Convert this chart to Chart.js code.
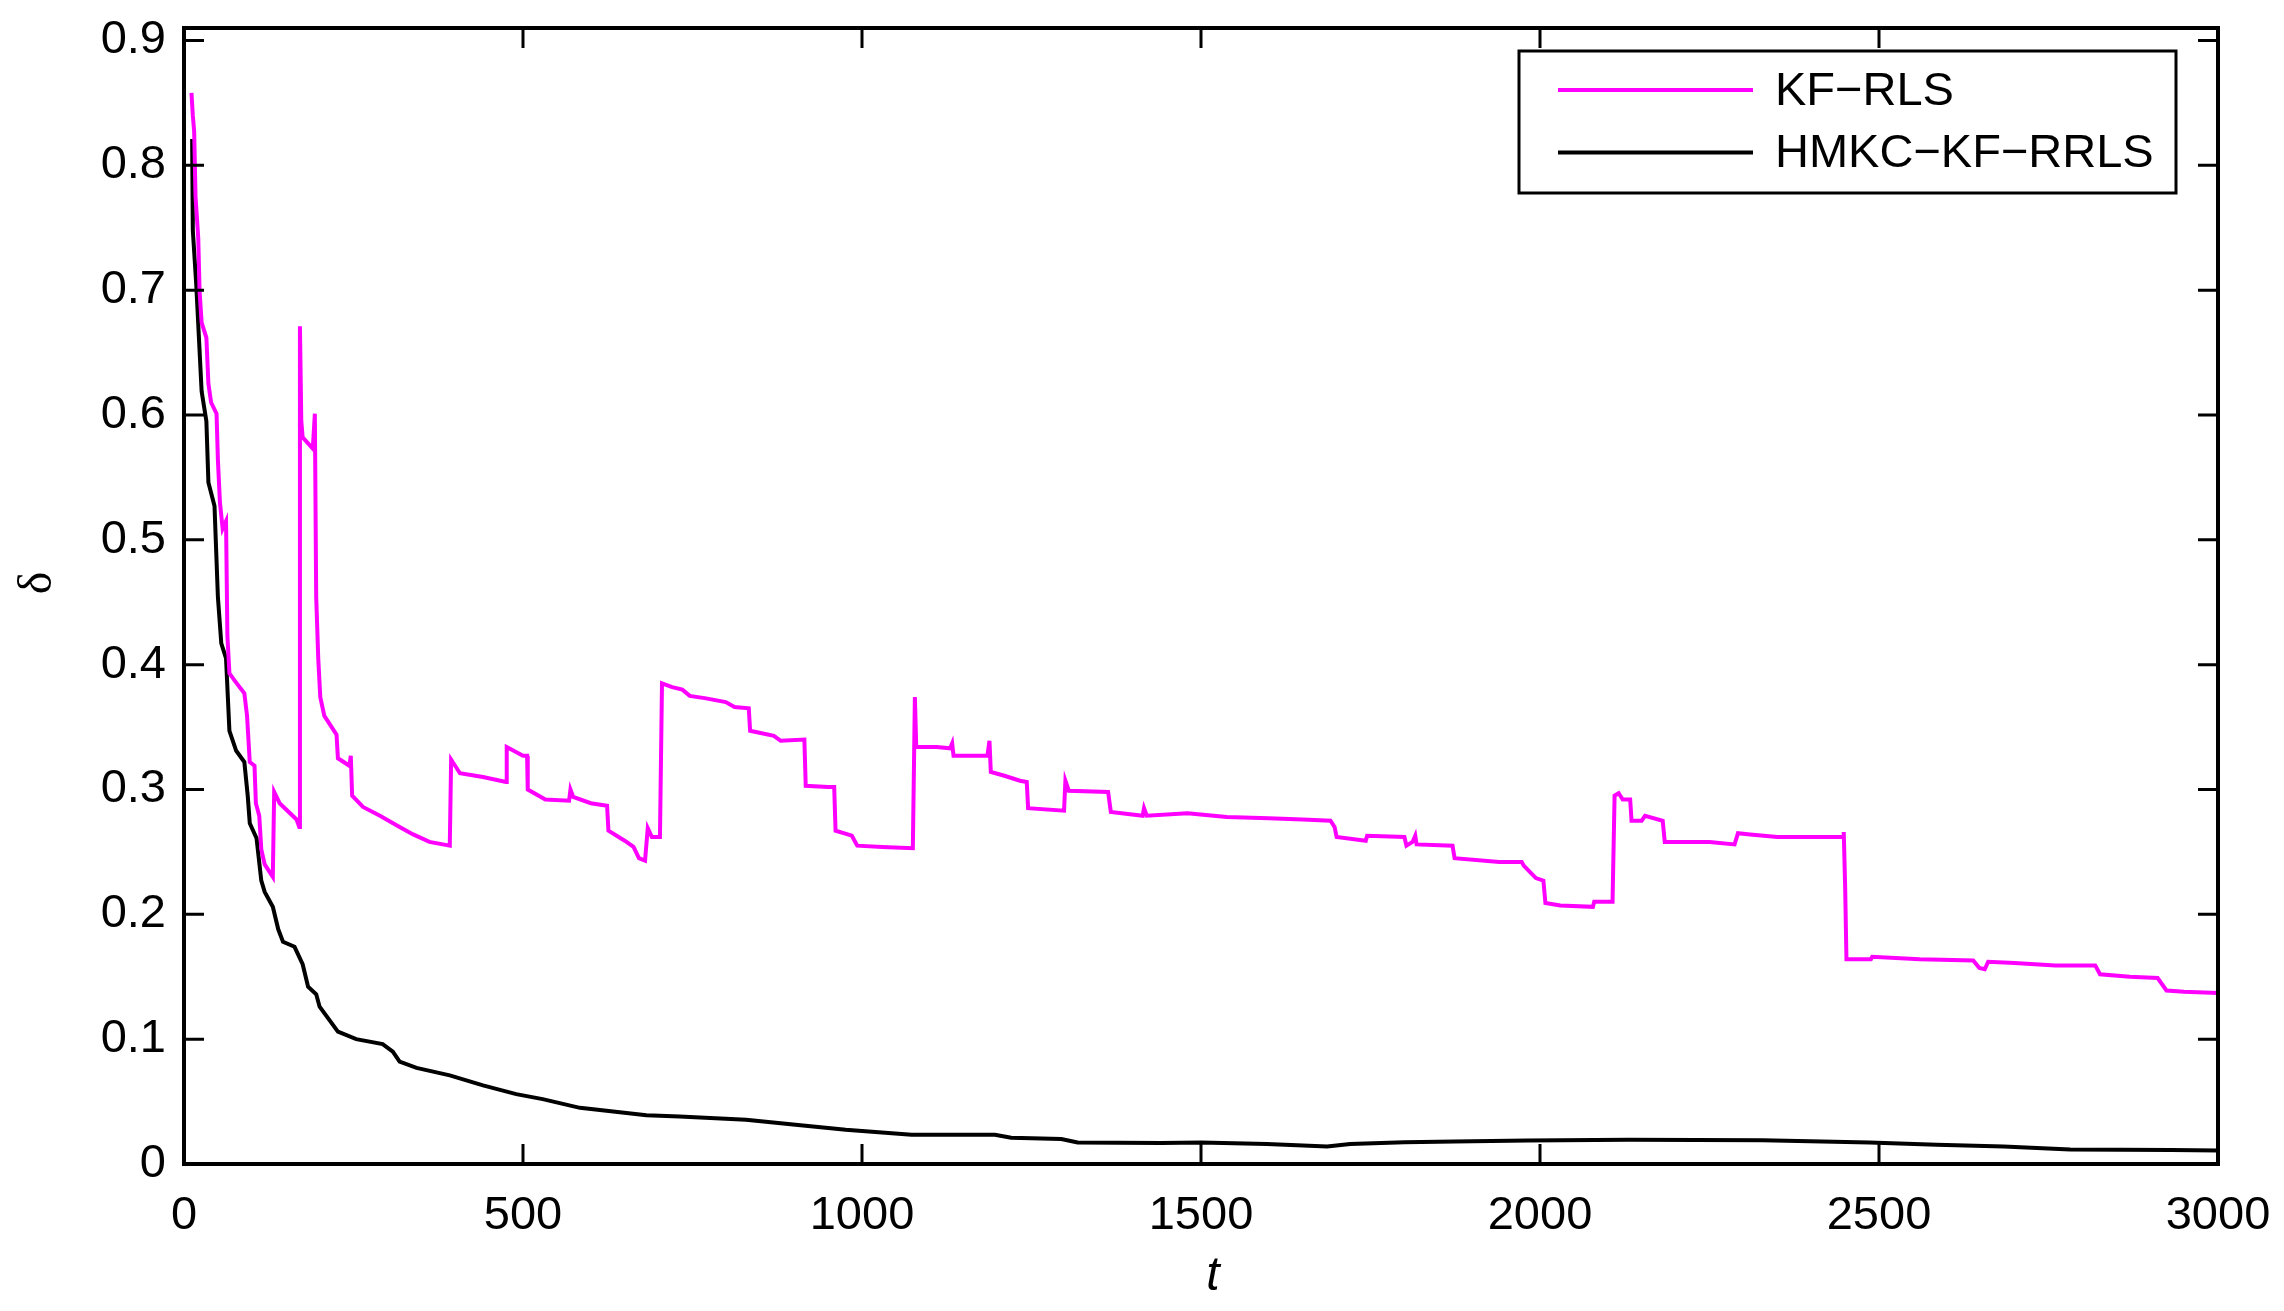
<!DOCTYPE html>
<html>
<head>
<meta charset="utf-8">
<title>KF-RLS vs HMKC-KF-RRLS</title>
<script src="https://cdn.jsdelivr.net/npm/chart.js@4.4.1/dist/chart.umd.min.js"></script>
<style>
    html, body { margin: 0; padding: 0; background: #ffffff; }
    #wrap { position: relative; width: 2284px; height: 1311px; }
</style>
</head>
<body>
<div id="wrap"><canvas id="deltaChart"></canvas></div>
<script>
// values (t, delta)
const kfT = [11, 13, 15, 17, 21, 23, 26, 33, 36, 40, 48, 50, 53, 57, 62, 64, 67, 75, 89, 93,
    97, 104, 106, 111, 114, 119, 131, 133, 141, 166, 170, 171, 173, 175, 190, 193, 195, 198, 201, 207,
    225, 227, 244, 246, 248, 264, 289, 318, 338, 362, 392, 394, 407, 441, 475, 476, 500, 506, 507, 533,
    568, 570, 574, 600, 624, 626, 650, 663, 671, 680, 684, 690, 702, 705, 720, 735, 746, 770, 799, 812,
    833, 835, 870, 880, 915, 917, 950, 959, 961, 985, 993, 1030, 1075, 1078, 1080, 1110, 1130, 1133, 1135, 1185,
    1188, 1190, 1210, 1233, 1243, 1245, 1298, 1300, 1305, 1363, 1367, 1414, 1416, 1420, 1480, 1538, 1600, 1650, 1691, 1697,
    1700, 1743, 1745, 1800, 1803, 1812, 1816, 1818, 1871, 1874, 1940, 1973, 1976, 1985, 1994, 2005, 2008, 2030, 2078, 2080,
    2107, 2110, 2116, 2122, 2133, 2135, 2150, 2155, 2181, 2184, 2250, 2287, 2292, 2310, 2350, 2447, 2448, 2450, 2452, 2488,
    2490, 2560, 2639, 2648, 2656, 2661, 2700, 2760, 2819, 2826, 2870, 2911, 2924, 2950, 3000];
const kfDelta = [0.858, 0.840, 0.827, 0.775, 0.742, 0.699, 0.674, 0.662, 0.625, 0.610, 0.601, 0.564, 0.530, 0.509, 0.515, 0.423, 0.393, 0.387, 0.377, 0.359,
    0.322, 0.319, 0.289, 0.279, 0.252, 0.240, 0.230, 0.298, 0.289, 0.276, 0.270, 0.671, 0.595, 0.582, 0.573, 0.601, 0.454, 0.405, 0.374, 0.359,
    0.344, 0.325, 0.319, 0.327, 0.295, 0.286, 0.279, 0.270, 0.264, 0.258, 0.255, 0.324, 0.313, 0.310, 0.306, 0.334, 0.327, 0.327, 0.300, 0.292,
    0.291, 0.300, 0.294, 0.289, 0.287, 0.267, 0.259, 0.254, 0.245, 0.243, 0.269, 0.262, 0.262, 0.385, 0.382, 0.380, 0.375, 0.373, 0.370, 0.366,
    0.365, 0.347, 0.343, 0.339, 0.340, 0.303, 0.302, 0.302, 0.267, 0.263, 0.255, 0.254, 0.253, 0.374, 0.334, 0.334, 0.333, 0.337, 0.327, 0.327,
    0.339, 0.314, 0.311, 0.307, 0.306, 0.285, 0.283, 0.307, 0.299, 0.298, 0.282, 0.279, 0.285, 0.279, 0.281, 0.278, 0.277, 0.276, 0.275, 0.270,
    0.262, 0.259, 0.263, 0.262, 0.255, 0.258, 0.263, 0.256, 0.255, 0.245, 0.242, 0.242, 0.239, 0.234, 0.229, 0.227, 0.209, 0.207, 0.206, 0.210,
    0.210, 0.295, 0.297, 0.292, 0.292, 0.275, 0.275, 0.279, 0.275, 0.258, 0.258, 0.256, 0.265, 0.264, 0.262, 0.262, 0.266, 0.224, 0.164, 0.164,
    0.166, 0.164, 0.163, 0.157, 0.156, 0.162, 0.161, 0.159, 0.159, 0.152, 0.150, 0.149, 0.139, 0.138, 0.137];

const hmT = [12, 13, 18, 22, 26, 33, 36, 45, 50, 55, 62, 67, 77, 89, 94, 97, 107, 114, 119, 131,
    139, 146, 163, 175, 183, 195, 200, 227, 254, 293, 308, 318, 343, 392, 441, 490, 529, 584, 633, 682,
    731, 829, 902, 976, 1073, 1196, 1220, 1294, 1318, 1441, 1500, 1597, 1686, 1720, 1800, 1874, 1982, 2131, 2328, 2486,
    2585, 2684, 2782, 2931, 3000];
const hmDelta = [0.821, 0.748, 0.705, 0.662, 0.619, 0.595, 0.546, 0.527, 0.454, 0.417, 0.405, 0.347, 0.331, 0.322, 0.295, 0.273, 0.261, 0.227, 0.218, 0.206,
    0.188, 0.178, 0.174, 0.160, 0.142, 0.136, 0.126, 0.106, 0.100, 0.096, 0.090, 0.082, 0.077, 0.071, 0.063, 0.056, 0.052, 0.045, 0.042, 0.039,
    0.038, 0.0355, 0.0315, 0.0275, 0.0235, 0.0235, 0.021, 0.020, 0.0173, 0.0168, 0.0172, 0.016, 0.0141, 0.016, 0.0175, 0.018, 0.0189, 0.0195, 0.019, 0.0173,
    0.0154, 0.014, 0.0117, 0.0113, 0.0109];

const seriesNames = ['KF\u2212RLS', 'HMKC\u2212KF\u2212RRLS'];
const seriesColors = ['#ff00ff', '#000000'];

const xTicksMax = 3000;
const yTicksMax = 0.91;

const FONT = '"Liberation Sans", Arial, Helvetica, sans-serif';

// MATLAB style box: frame on all four sides with inward ticks
const matlabFrame = {
    id: 'matlabFrame',
    afterDatasetsDraw(chart) {
        const { ctx, chartArea: a, scales } = chart;
        const len = 20;
        ctx.save();
        ctx.strokeStyle = '#000';
        ctx.lineWidth = 3;
        ctx.beginPath();
        scales.x.ticks.forEach(t => {
            const px = scales.x.getPixelForValue(t.value);
            ctx.moveTo(px, a.bottom); ctx.lineTo(px, a.bottom - len);
            ctx.moveTo(px, a.top); ctx.lineTo(px, a.top + len);
        });
        scales.y.ticks.forEach(t => {
            const py = scales.y.getPixelForValue(t.value);
            ctx.moveTo(a.left, py); ctx.lineTo(a.left + len, py);
            ctx.moveTo(a.right, py); ctx.lineTo(a.right - len, py);
        });
        ctx.stroke();
        ctx.lineWidth = 4;
        ctx.strokeRect(a.left, a.top, a.width, a.height);

        // axis titles
        ctx.fillStyle = '#000';
        ctx.textAlign = 'center';
        ctx.textBaseline = 'middle';
        ctx.font = 'italic 48px ' + FONT;
        ctx.fillText('t', 1213, 1277);
        ctx.save();
        ctx.translate(38, 583);
        ctx.rotate(-Math.PI / 2);
        ctx.font = '48px "Liberation Serif", "DejaVu Serif", serif';
        ctx.fillText('\u03b4', 0, 0);
        ctx.restore();
        ctx.restore();
    }
};

const boxLegend = {
    id: 'boxLegend',
    afterDraw(chart) {
        const { ctx } = chart;
        const bx = 1519, by = 51, bw = 657, bh = 142;
        ctx.save();
        ctx.fillStyle = '#fff';
        ctx.fillRect(bx, by, bw, bh);
        ctx.strokeStyle = '#000';
        ctx.lineWidth = 3;
        ctx.strokeRect(bx, by, bw, bh);
        ctx.font = '47px ' + FONT;
        ctx.textAlign = 'left';
        ctx.textBaseline = 'middle';
        chart.data.datasets.forEach((ds, i) => {
            const rowY = 90 + i * 62.5;
            ctx.strokeStyle = ds.borderColor;
            ctx.lineWidth = 4;
            ctx.beginPath();
            ctx.moveTo(1558, rowY);
            ctx.lineTo(1753, rowY);
            ctx.stroke();
            ctx.fillStyle = '#000';
            ctx.fillText(ds.label, 1775, rowY + 2);
        });
        ctx.restore();
    }
};

document.addEventListener('DOMContentLoaded', function () {

    const toPoints = (ts, vs) => ts.map((t, i) => ({ x: t, y: vs[i] }));

    new Chart(document.getElementById('deltaChart'), {
        type: 'line',
        data: {
            datasets: [{
                label: seriesNames[0],
                data: toPoints(kfT, kfDelta),
                borderColor: seriesColors[0],
                borderWidth: 4,
                pointRadius: 0,
                tension: 0
            }, {
                label: seriesNames[1],
                data: toPoints(hmT, hmDelta),
                borderColor: seriesColors[1],
                borderWidth: 4,
                pointRadius: 0,
                tension: 0
            }]
        },
        options: {
            responsive: true,
            maintainAspectRatio: false,
            animation: false,
            layout: { padding: { top: 28, right: 66, bottom: 0, left: 0 } },
            scales: {
                x: {
                    type: 'linear',
                    min: 0,
                    max: xTicksMax,
                    grid: { display: false, drawTicks: false },
                    border: { display: false },
                    ticks: {
                        stepSize: 500,
                        color: '#000',
                        padding: 24,
                        maxRotation: 0,
                        font: { family: FONT, size: 47 },
                        callback: v => String(v)
                    },
                    afterFit(scale) {
                        scale.height = 147;
                        scale.paddingLeft = 0;
                        scale.paddingRight = 0;
                    }
                },
                y: {
                    min: 0,
                    max: yTicksMax,
                    grid: { display: false, drawTicks: false },
                    border: { display: false },
                    ticks: {
                        stepSize: 0.1,
                        includeBounds: false,
                        color: '#000',
                        padding: 18,
                        font: { family: FONT, size: 47 },
                        callback: v => String(Math.round(v * 10) / 10)
                    },
                    afterFit(scale) {
                        scale.width = 184;
                        scale.paddingTop = 0;
                        scale.paddingBottom = 0;
                    }
                }
            },
            plugins: {
                legend: { display: false },
                tooltip: { enabled: false }
            }
        },
        plugins: [matlabFrame, boxLegend]
    });
});
</script>
</body>
</html>
